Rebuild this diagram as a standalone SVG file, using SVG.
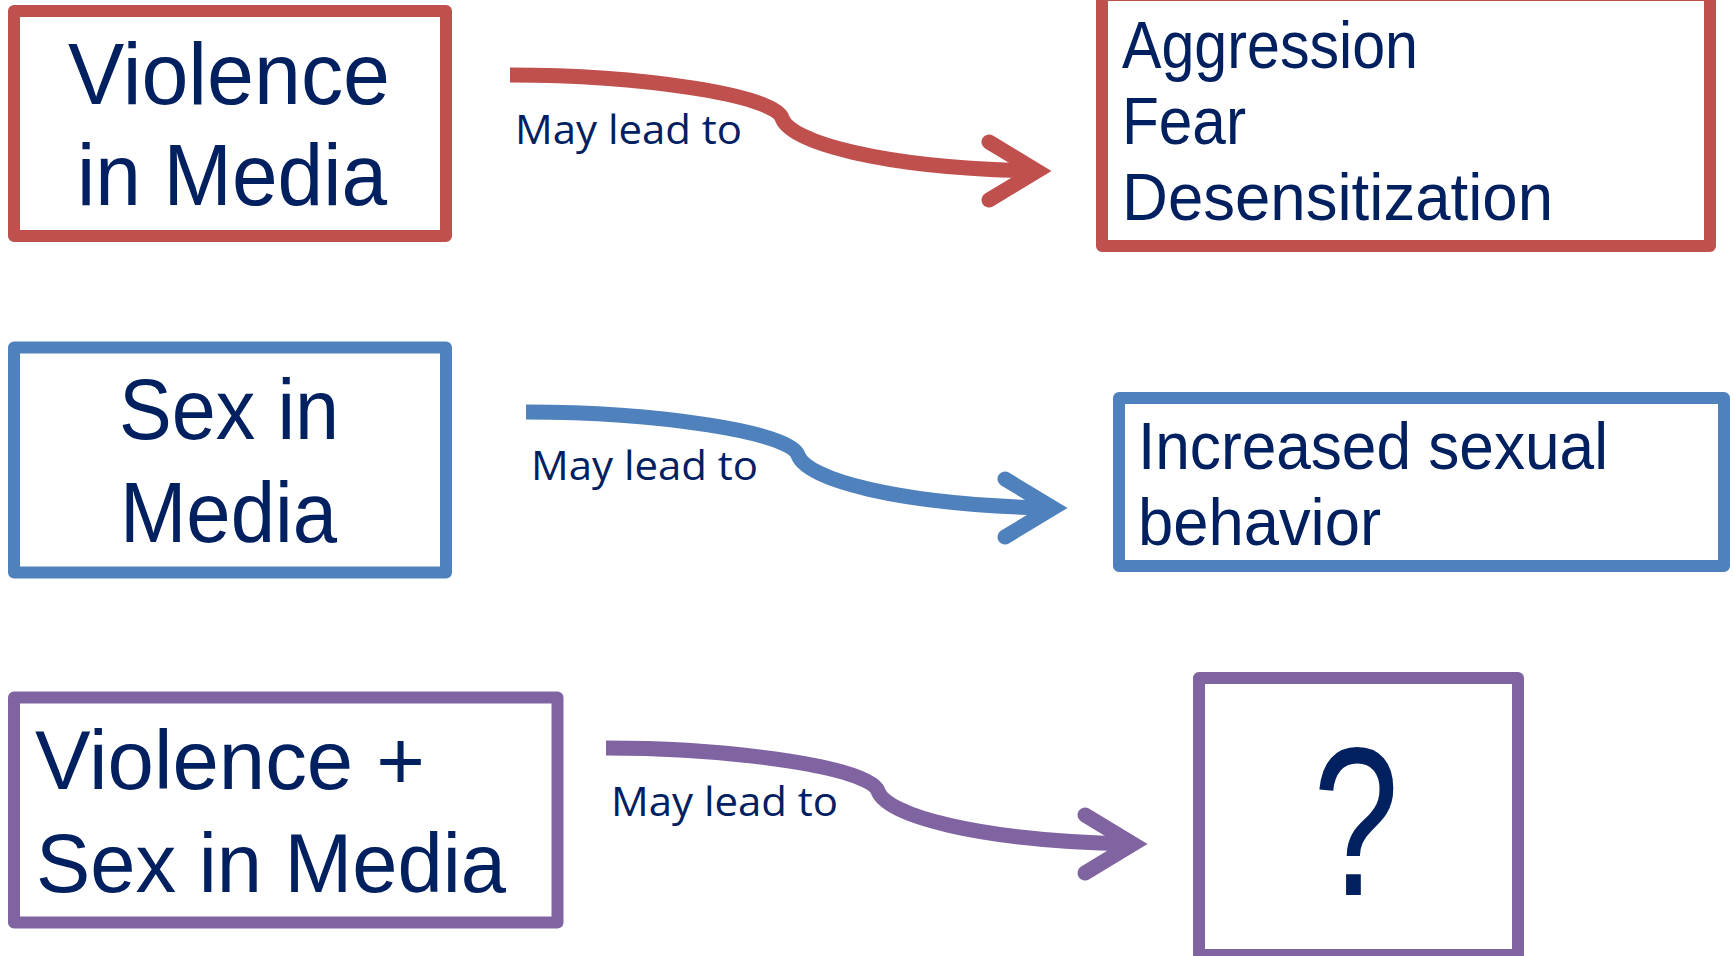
<svg xmlns="http://www.w3.org/2000/svg" width="1733" height="956" viewBox="0 0 1733 956">
<style>
.box{fill:#fff;stroke-width:12;stroke-linejoin:round}
.red{stroke:#C0504D}
.blue{stroke:#4F81BD}
.purple{stroke:#8064A2}
.t{font-family:"Liberation Sans",Arial,sans-serif;fill:#002060}
.lbl{font-family:"Open Sans","Noto Sans",sans-serif;fill:#002060;font-size:41px}
.ln{fill:none;stroke-width:15;stroke-linecap:butt;stroke-linejoin:round}
.hd{fill:none;stroke-width:15;stroke-linecap:round;stroke-linejoin:miter;stroke-miterlimit:10}
</style>
<rect width="1733" height="956" fill="#fff"/>
<g id="violence-in-media">
<rect class="box red" x="14" y="11" width="432" height="225"/>
<text class="t" font-size="87" x="68" y="104" textLength="322" lengthAdjust="spacingAndGlyphs">Violence</text>
<text class="t" font-size="87" x="77" y="205" textLength="310" lengthAdjust="spacingAndGlyphs">in Media</text>
</g>
<g id="aggression-fear">
<rect class="box red" x="1102" y="-5" width="608" height="251"/>
<text class="t" font-size="66" x="1122" y="68" textLength="296" lengthAdjust="spacingAndGlyphs">Aggression</text>
<text class="t" font-size="66" x="1122" y="144" textLength="124" lengthAdjust="spacingAndGlyphs">Fear</text>
<text class="t" font-size="66" x="1122" y="220" textLength="431" lengthAdjust="spacingAndGlyphs">Desensitization</text>
</g>
<g id="sex-in-media">
<rect class="box blue" x="14" y="347.5" width="432" height="225"/>
<text class="t" font-size="86" x="119" y="439" textLength="220" lengthAdjust="spacingAndGlyphs">Sex in</text>
<text class="t" font-size="86" x="120" y="542" textLength="217" lengthAdjust="spacingAndGlyphs">Media</text>
</g>
<g id="increased-sexual-behavior">
<rect class="box blue" x="1119" y="398" width="605" height="168"/>
<text class="t" font-size="66" x="1138" y="469" textLength="470" lengthAdjust="spacingAndGlyphs">Increased sexual</text>
<text class="t" font-size="66" x="1138" y="545" textLength="243" lengthAdjust="spacingAndGlyphs">behavior</text>
</g>
<g id="violence-sex-in-media">
<rect class="box purple" x="14" y="697.5" width="543.5" height="225"/>
<text class="t" font-size="84" x="35" y="789" textLength="390" lengthAdjust="spacingAndGlyphs">Violence +</text>
<text class="t" font-size="84" x="36" y="892" textLength="470" lengthAdjust="spacingAndGlyphs">Sex in Media</text>
</g>
<g id="unknown">
<rect class="box purple" x="1199" y="678" width="319" height="277"/>
<text class="t" font-size="212" x="1356" y="895" text-anchor="middle" textLength="86" lengthAdjust="spacingAndGlyphs">?</text>
</g>
<g id="connectors">
<g stroke="#C0504D">
<path class="ln" d="M510,75 C640,75 775,95 782,118 C790,142 880,168 1035,171"/>
<polyline class="hd" points="989,142 1037,171 989,200"/>
</g>
<g transform="translate(16,337)" stroke="#4F81BD">
<path class="ln" d="M510,75 C640,75 775,95 782,118 C790,142 880,168 1035,171"/>
<polyline class="hd" points="989,142 1037,171 989,200"/>
</g>
<g transform="translate(96,673)" stroke="#8064A2">
<path class="ln" d="M510,75 C640,75 775,95 782,118 C790,142 880,168 1035,171"/>
<polyline class="hd" points="989,142 1037,171 989,200"/>
</g>
<text class="lbl" x="515" y="144" textLength="227" lengthAdjust="spacingAndGlyphs">May lead to</text>
<text class="lbl" x="531" y="480" textLength="227" lengthAdjust="spacingAndGlyphs">May lead to</text>
<text class="lbl" x="611" y="816" textLength="227" lengthAdjust="spacingAndGlyphs">May lead to</text>
</g>
</svg>
